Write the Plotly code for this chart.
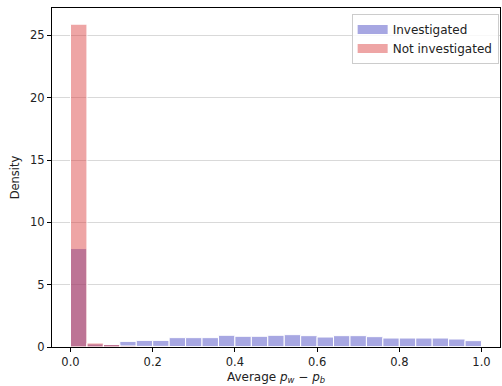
import plotly.graph_objects as go

bin_edges = [0.00, 0.04, 0.08, 0.12, 0.16, 0.20, 0.24, 0.28, 0.32, 0.36, 0.40,
             0.44, 0.48, 0.52, 0.56, 0.60, 0.64, 0.68, 0.72, 0.76, 0.80,
             0.84, 0.88, 0.92, 0.96, 1.00]
investigated = [7.9, 0.24, 0.24, 0.45, 0.53, 0.53, 0.75, 0.75, 0.75, 0.94,
                0.86, 0.86, 0.94, 0.99, 0.91, 0.80, 0.91, 0.91, 0.83, 0.72,
                0.72, 0.72, 0.72, 0.64, 0.51]
not_investigated = [25.9, 0.32, 0.20, 0.08, 0.05, 0.05, 0.04, 0, 0, 0,
                    0, 0, 0, 0, 0, 0, 0, 0, 0, 0,
                    0, 0, 0, 0, 0]
x_ticks = [0.0, 0.2, 0.4, 0.6, 0.8, 1.0]
y_ticks = [0, 5, 10, 15, 20, 25]
series_names = ["Investigated", "Not investigated"]

BLUE = "rgba(60,60,190,0.45)"
RED = "rgba(217,55,55,0.45)"

centers = [(a + b) / 2 for a, b in zip(bin_edges[:-1], bin_edges[1:])]
widths = [b - a for a, b in zip(bin_edges[:-1], bin_edges[1:])]

fig = go.Figure()
for vals, name, col in [(investigated, series_names[0], BLUE),
                        (not_investigated, series_names[1], RED)]:
    fig.add_trace(go.Bar(x=centers, y=vals, width=widths, name=name, showlegend=False,
                         marker=dict(color=col, line=dict(color="white", width=1))))
# legend entries drawn as wide patches
for name, col in zip(series_names, [BLUE, RED]):
    fig.add_trace(go.Scatter(x=[None], y=[None], mode="lines", name=name,
                             line=dict(color=col, width=9)))

font = "DejaVu Sans"
fig.update_layout(
    width=502, height=386, barmode="overlay",
    margin=dict(l=52, r=2, t=8, b=39),
    plot_bgcolor="white", paper_bgcolor="white",
    font=dict(family=font, size=11.5, color="#222"),
    legend=dict(x=0.997, y=0.982, xanchor="right", yanchor="top",
                bgcolor="rgba(255,255,255,0.8)", bordercolor="#cccccc", borderwidth=1,
                font=dict(size=12), itemwidth=30, tracegroupgap=0),
    xaxis=dict(range=[-0.045, 1.045], tickvals=x_ticks, tickformat=".1f",
               showgrid=False, zeroline=False, showline=True, linecolor="black",
               linewidth=1, mirror=True, ticks="outside", ticklen=4, tickcolor="black",
               title=dict(text="Average <i>p</i><sub><i>w</i></sub> − <i>p</i><sub><i>b</i></sub>",
                          standoff=4, font=dict(size=12))),
    yaxis=dict(range=[0, 27.2], tickvals=y_ticks, showgrid=True, gridcolor="#d9d9d9",
               zeroline=False, showline=True, linecolor="black", linewidth=1, mirror=True,
               ticks="outside", ticklen=4, tickcolor="black",
               title=dict(text="Density", standoff=8, font=dict(size=11.5))),
)
fig.write_html("out.html")
